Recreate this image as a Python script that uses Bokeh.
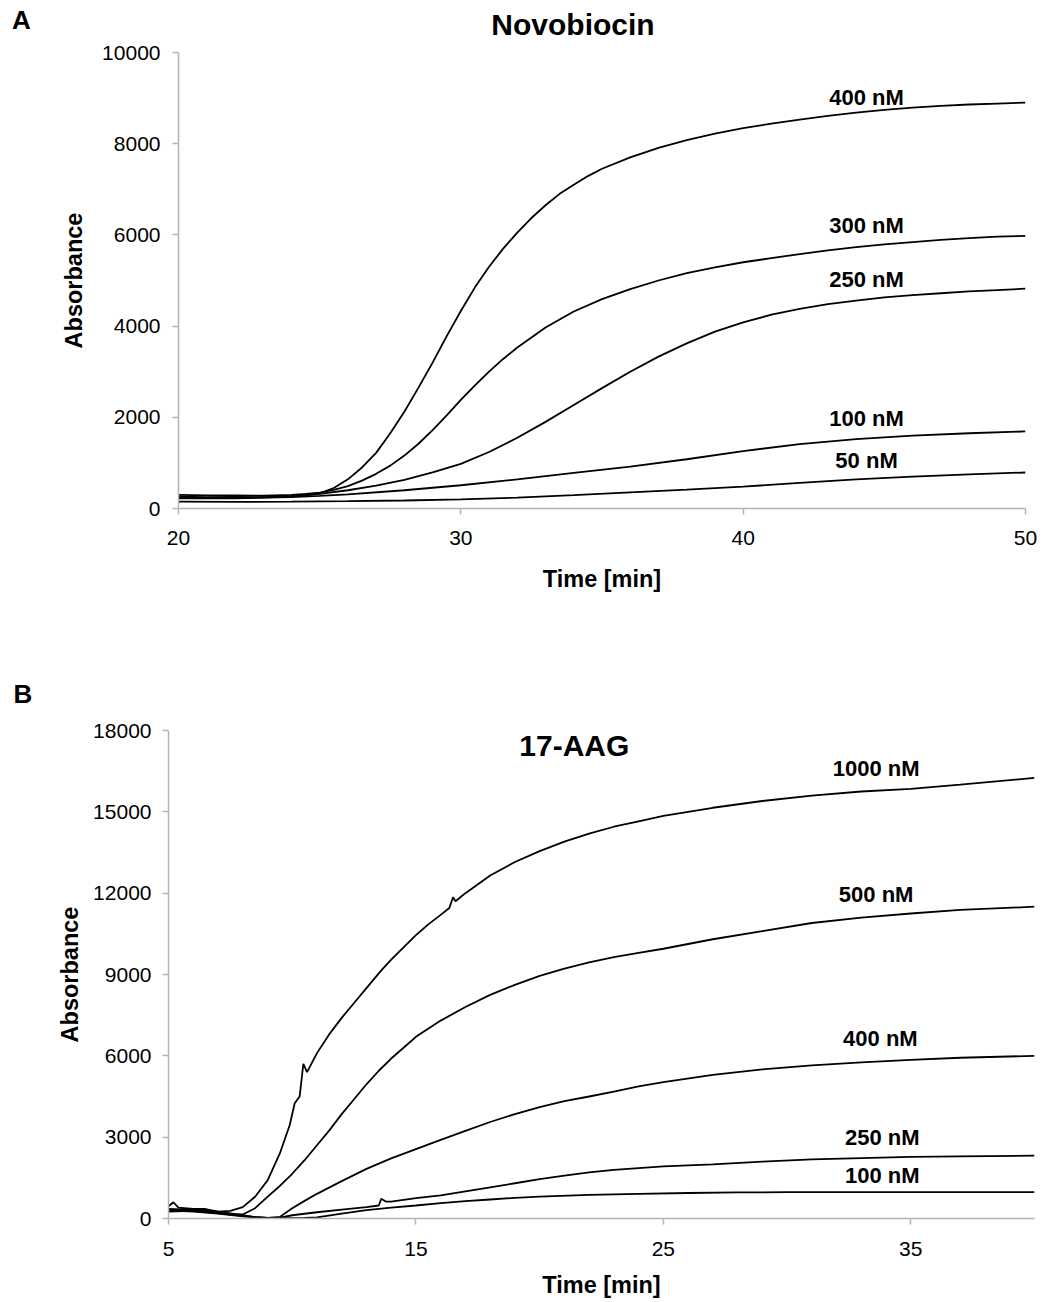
from bokeh.plotting import figure
from bokeh.layouts import column, row
from bokeh.models import Range1d, FixedTicker, Label, Title, Div
from bokeh.embed import file_html
from bokeh.resources import INLINE

FONT = "Liberation Sans"

# ---------------- Panel A: Novobiocin ----------------
a_ticks_x = [20, 30, 40, 50]
a_ticks_y = [0, 2000, 4000, 6000, 8000, 10000]

a400_t = [20, 21, 22, 23, 24, 24.5, 25, 25.5, 26, 26.5, 27, 27.5, 28, 28.5, 29, 29.5, 30, 30.5, 31, 31.5, 32, 32.5, 33, 33.5, 34, 34.5, 35, 36, 37, 38, 39, 40, 41, 42, 43, 44, 45, 46, 47, 48, 49, 50]
a400_v = [260, 250, 255, 250, 270, 290, 330, 450, 640, 900, 1220, 1650, 2120, 2650, 3200, 3780, 4330, 4850, 5300, 5700, 6050, 6370, 6650, 6900, 7100, 7290, 7450, 7700, 7910, 8080, 8220, 8340, 8440, 8530, 8610, 8680, 8740, 8790, 8830, 8860, 8880, 8900]

a300_t = [20, 21, 22, 23, 24, 24.5, 25, 25.5, 26, 26.5, 27, 27.5, 28, 28.5, 29, 29.5, 30, 30.5, 31, 31.5, 32, 33, 34, 35, 36, 37, 38, 39, 40, 41, 42, 43, 44, 45, 46, 47, 48, 49, 50]
a300_v = [300, 290, 285, 280, 300, 320, 350, 410, 490, 610, 760, 940, 1160, 1420, 1720, 2040, 2380, 2700, 3000, 3280, 3530, 3970, 4320, 4590, 4810, 5000, 5160, 5290, 5400, 5490, 5580, 5660, 5730, 5790, 5840, 5890, 5930, 5960, 5980]

a250_t = [20, 21, 22, 23, 24, 25, 26, 27, 28, 29, 30, 31, 32, 33, 34, 35, 36, 37, 38, 39, 40, 41, 42, 43, 44, 45, 46, 47, 48, 49, 50]
a250_v = [240, 235, 235, 240, 270, 320, 400, 500, 630, 790, 980, 1240, 1550, 1900, 2270, 2640, 3000, 3330, 3620, 3880, 4080, 4250, 4380, 4480, 4560, 4630, 4680, 4720, 4760, 4790, 4820]

a100_t = [20, 22, 24, 25, 26, 28, 30, 32, 34, 36, 38, 40, 42, 44, 46, 48, 50]
a100_v = [220, 225, 250, 275, 310, 400, 510, 640, 780, 920, 1080, 1260, 1410, 1520, 1600, 1650, 1690]

a50_t = [20, 22, 24, 26, 28, 30, 32, 34, 36, 38, 40, 42, 44, 46, 48, 50]
a50_v = [150, 145, 150, 160, 175, 200, 240, 295, 355, 415, 480, 560, 640, 700, 750, 790]

a_labels = ["400 nM", "300 nM", "250 nM", "100 nM", "50 nM"]
a_label_t = [44.37, 44.37, 44.37, 44.37, 44.37]
a_label_v = [9003, 6200, 5016, 1971, 1051]

# ---------------- Panel B: 17-AAG ----------------
b_ticks_x = [5, 15, 25, 35]
b_ticks_y = [0, 3000, 6000, 9000, 12000, 15000, 18000]

b1000_t = [5.0, 5.2, 5.4, 6, 6.5, 7, 7.5, 8, 8.5, 9, 9.5, 9.9, 10.1, 10.3, 10.45, 10.6, 11, 11.5, 12, 12.5, 13, 13.6, 14, 14.5, 15, 15.5, 16, 16.35, 16.5, 16.6, 17, 18, 19, 20, 21, 22, 23, 24, 25, 27, 29, 31, 33, 35, 37, 40]
b1000_v = [450, 600, 400, 350, 350, 250, 280, 420, 800, 1400, 2400, 3450, 4250, 4500, 5700, 5400, 6100, 6800, 7400, 7950, 8500, 9150, 9550, 10000, 10450, 10850, 11200, 11450, 11850, 11700, 12000, 12650, 13150, 13550, 13900, 14200, 14450, 14650, 14850, 15150, 15400, 15600, 15750, 15850, 16000, 16250]

b500_t = [5, 5.5, 6, 6.5, 7, 7.5, 8, 8.5, 9, 9.5, 10, 10.5, 11, 11.5, 12, 12.5, 13, 13.5, 14, 14.5, 15, 16, 17, 18, 19, 20, 21, 22, 23, 24, 25, 27, 29, 31, 33, 35, 37, 40]
b500_v = [300, 320, 300, 280, 200, 150, 150, 380, 800, 1200, 1650, 2150, 2700, 3250, 3850, 4400, 4950, 5450, 5900, 6300, 6700, 7300, 7800, 8250, 8620, 8950, 9220, 9450, 9640, 9800, 9950, 10300, 10600, 10900, 11100, 11250, 11380, 11500]

b400_t = [5, 6, 7, 8, 8.5, 9, 9.5, 10, 10.5, 11, 12, 13, 14, 15, 16, 17, 18, 19, 20, 21, 22, 23, 24, 25, 27, 29, 31, 33, 35, 37, 40]
b400_v = [250, 280, 200, 100, 50, 20, 60, 380, 650, 910, 1380, 1830, 2220, 2560, 2900, 3230, 3560, 3850, 4110, 4330, 4500, 4680, 4870, 5030, 5300, 5500, 5650, 5760, 5850, 5930, 6000]

b250_t = [5, 6, 7, 8, 8.5, 9, 9.5, 10, 11, 12, 13, 13.5, 13.6, 13.8, 14, 15, 16, 17, 18, 19, 20, 21, 22, 23, 24, 25, 27, 29, 31, 33, 35, 37, 40]
b250_v = [350, 320, 250, 120, 50, 20, 30, 120, 230, 330, 420, 480, 730, 620, 620, 750, 850, 1000, 1150, 1300, 1450, 1580, 1700, 1790, 1860, 1920, 2000, 2100, 2180, 2230, 2270, 2290, 2320]

b100_t = [5, 6, 7, 8, 9, 10, 10.5, 11, 12, 13, 14, 15, 16, 17, 18, 19, 20, 22, 24, 26, 28, 30, 33, 36, 40]
b100_v = [300, 250, 180, 80, 20, 10, 20, 40, 180, 310, 400, 480, 570, 640, 700, 760, 810, 870, 910, 940, 960, 970, 975, 970, 970]

b_labels = ["1000 nM", "500 nM", "400 nM", "250 nM", "100 nM"]
b_label_t = [33.6, 33.6, 33.77, 33.85, 33.85]
b_label_v = [16605, 11955, 6642, 2989, 1587]


def style(p, xticks, yticks):
    p.xgrid.visible = False
    p.ygrid.visible = False
    p.outline_line_color = None
    for ax in (p.xaxis[0], p.yaxis[0]):
        ax.axis_line_color = "#b4b4b4"
        ax.axis_line_width = 1.5
        ax.major_tick_line_color = "#b4b4b4"
        ax.major_tick_line_width = 1.5
        ax.major_tick_in = 0
        ax.major_tick_out = 6
        ax.minor_tick_line_color = None
        ax.major_label_text_font = FONT
        ax.major_label_text_font_size = "21px"
        ax.major_label_text_color = "black"
        ax.axis_label_text_font = FONT
        ax.axis_label_text_font_size = "23.5px"
        ax.axis_label_text_font_style = "bold"
        ax.axis_label_text_color = "black"
    p.xaxis[0].ticker = FixedTicker(ticks=xticks)
    p.yaxis[0].ticker = FixedTicker(ticks=yticks)
    p.xaxis[0].axis_label = "Time [min]"
    p.yaxis[0].axis_label = "Absorbance"


def add_text(p, x, y, text, size, align="center"):
    p.add_layout(Label(x=x, y=y, text=text, text_font=FONT, text_font_size=size,
                       text_font_style="bold", text_align=align,
                       text_baseline="middle", text_color="black"))


# Header of panel A (panel letter and title), as HTML text
head_a = Div(
    text=('<div style="position:relative;width:1044px;height:38px;'
          'font-family:\'Liberation Sans\';font-weight:bold;color:black;">'
          '<span style="position:absolute;left:12px;top:7px;font-size:26px;line-height:26px;">A</span>'
          '<span style="position:absolute;left:273px;width:600px;text-align:center;top:10px;'
          'font-size:30px;line-height:30px;">Novobiocin</span></div>'),
    width=1044, height=38, margin=0)

# Panel A figure
pa = figure(width=1044, height=602, output_backend="svg", toolbar_location=None,
            x_range=Range1d(20, 50), y_range=Range1d(0, 10000),
            min_border_left=178, min_border_right=19, min_border_top=14, min_border_bottom=132)
style(pa, a_ticks_x, a_ticks_y)
pa.xaxis[0].major_label_standoff = 16
pa.xaxis[0].axis_label_standoff = 18
pa.yaxis[0].major_label_standoff = 12
pa.yaxis[0].axis_label_standoff = 12
for t, v in [(a400_t, a400_v), (a300_t, a300_v), (a250_t, a250_v), (a100_t, a100_v), (a50_t, a50_v)]:
    pa.line(t, v, line_color="black", line_width=1.8)
for txt, t, v in zip(a_labels, a_label_t, a_label_v):
    add_text(pa, t, v, txt, "22px")

# Panel B figure
pb = figure(width=1044, height=662, output_backend="svg", toolbar_location=None,
            x_range=Range1d(5, 40), y_range=Range1d(0, 18000),
            min_border_left=168, min_border_right=10, min_border_top=90, min_border_bottom=84)
style(pb, b_ticks_x, b_ticks_y)
pb.xaxis[0].major_label_standoff = 17
pb.xaxis[0].axis_label_standoff = 13
pb.yaxis[0].major_label_standoff = 11
pb.yaxis[0].axis_label_standoff = 7
pb.add_layout(Title(text="B", align="left", offset=-155, text_font=FONT,
                    text_font_size="26px", text_font_style="bold", text_color="black",
                    standoff=44), "above")
for t, v in [(b1000_t, b1000_v), (b500_t, b500_v), (b400_t, b400_v), (b250_t, b250_v), (b100_t, b100_v)]:
    pb.line(t, v, line_color="black", line_width=1.8)
for txt, t, v in zip(b_labels, b_label_t, b_label_v):
    add_text(pb, t, v, txt, "22px")
add_text(pb, 21.4, 17450, "17-AAG", "30px")

layout = column(head_a, row(pa), row(pb), spacing=0)
open("out.html", "w").write(file_html(layout, INLINE))
